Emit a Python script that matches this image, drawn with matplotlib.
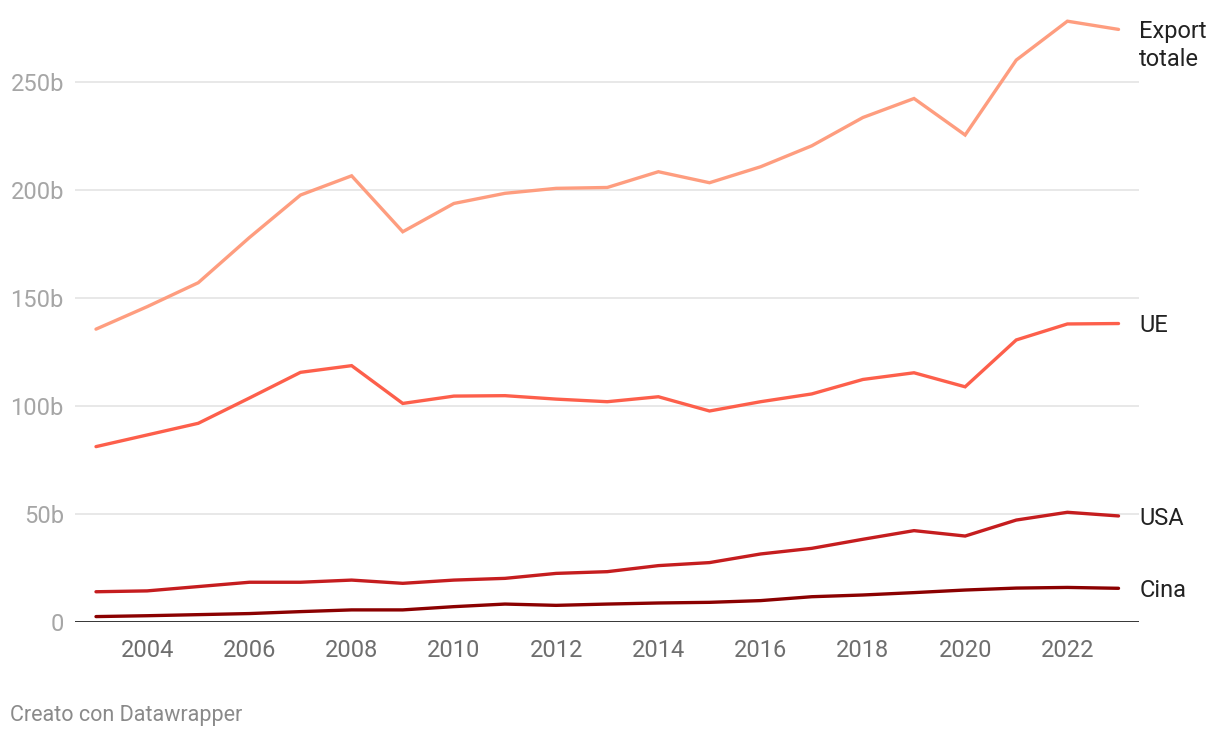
import matplotlib.pyplot as plt

plt.rcParams['font.family'] = ['Roboto', 'DejaVu Sans']

years = list(range(2003, 2024))

export_totale = [135.6, 146.0, 157.1, 178.0, 197.7, 206.6, 180.7, 193.8, 198.5, 200.8, 201.2,
                 208.5, 203.4, 210.8, 220.5, 233.6, 242.4, 225.5, 260.2, 278.2, 274.4]
ue = [81.2, 86.6, 92.0, 103.7, 115.6, 118.7, 101.2, 104.6, 104.8, 103.2, 102.0,
      104.3, 97.7, 102.0, 105.6, 112.3, 115.4, 108.9, 130.6, 138.0, 138.2]
usa = [14.0, 14.4, 16.4, 18.4, 18.4, 19.4, 17.9, 19.4, 20.2, 22.5, 23.3,
       26.1, 27.5, 31.5, 34.1, 38.3, 42.3, 39.8, 47.2, 50.8, 49.1]
cina = [2.5, 2.9, 3.4, 3.9, 4.8, 5.6, 5.6, 7.1, 8.3, 7.7, 8.3,
        8.8, 9.1, 9.9, 11.7, 12.5, 13.6, 14.8, 15.7, 16.0, 15.6]

series = [
    (['Export', 'totale'], export_totale, '#fe9d7f'),
    (['UE'], ue, '#fd5f4b'),
    (['USA'], usa, '#c51d1f'),
    (['Cina'], cina, '#8b0000'),
]

y_ticks = [0, 50, 100, 150, 200, 250]
y_labels = ['0', '50b', '100b', '150b', '200b', '250b']
x_ticks = list(range(2004, 2023, 2))

fig = plt.figure(figsize=(12.2, 7.38), dpi=100)
ax = fig.add_axes([0.0615, 0.1572, 0.8725, 0.8252])

for lines, vals, color in series:
    ax.plot(years, vals, color=color, lw=2.4, solid_capstyle='round',
            solid_joinstyle='miter', zorder=3)
    # one annotation per text line, first line centred on the end point
    for i, line in enumerate(lines):
        ax.annotate(line, xy=(years[-1], vals[-1]), xytext=(15, -1.5 - 20 * i),
                    textcoords='offset points', va='center', ha='left',
                    fontsize=17, color='#222222', annotation_clip=False)

ax.set_xlim(2002.59, 2023.41)
ax.set_ylim(0, 282)

for t in y_ticks[1:]:
    ax.axhline(t, color='#e4e4e4', lw=1.2, zorder=1)
ax.axhline(0, color='#222222', lw=2, zorder=4)

ax.set_yticks(y_ticks)
ax.set_yticklabels(y_labels)
ax.set_xticks(x_ticks)
ax.tick_params(axis='both', length=0, labelsize=17)
ax.tick_params(axis='y', colors='#a6a6a6', pad=8)
ax.tick_params(axis='x', colors='#6e6e6e', pad=12)
for s in ax.spines.values():
    s.set_visible(False)

fig.text(0.0082, 0.023, 'Creato con Datawrapper', fontsize=15.5, color='#8a8a8a',
         ha='left', va='baseline')

fig.savefig('out.png', dpi=100)
